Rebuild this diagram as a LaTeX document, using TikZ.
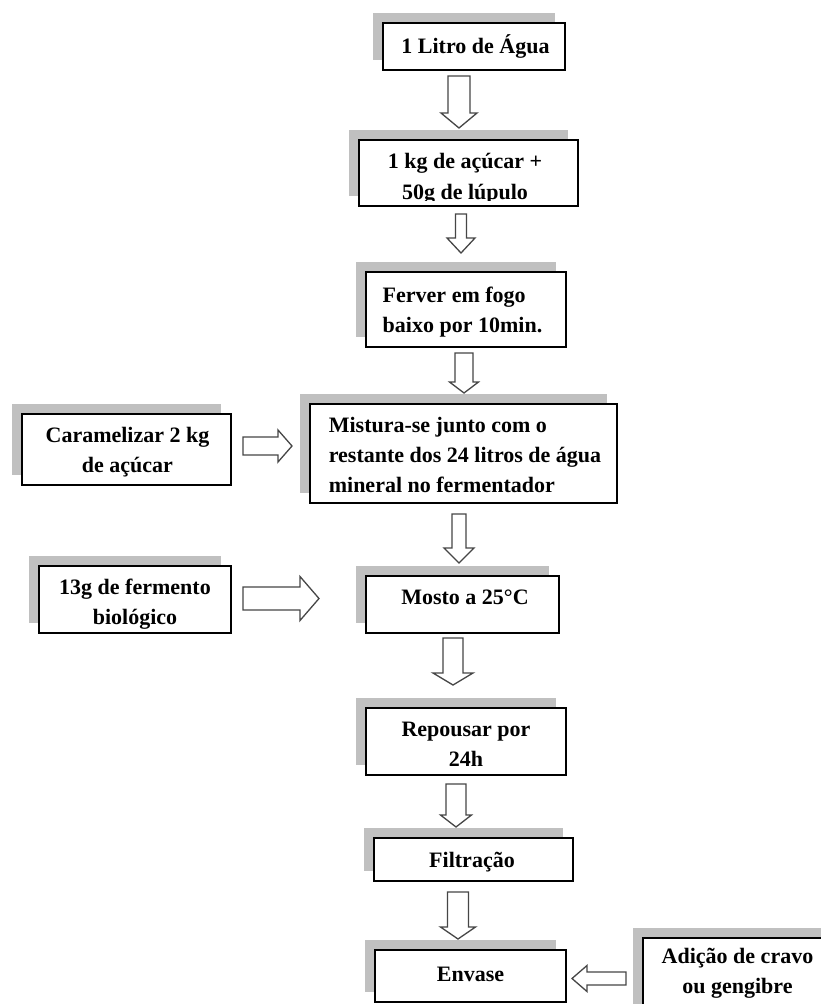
\documentclass[tikz,border=0pt]{standalone}
\usepackage{fontspec}
\setmainfont{Liberation Serif}
\usetikzlibrary{calc,shadows}
\definecolor{shadowgray}{RGB}{192,192,192}
\definecolor{arrowgray}{RGB}{70,70,70}
\tikzset{
  box/.style={draw=black, fill=white, line width=1.4pt, inner sep=0pt,
    drop shadow={shadow xshift=-10pt, shadow yshift=10pt, fill=shadowgray, opacity=1}},
  txt/.style={inner sep=0pt, align=center, font=\fontsize{22}{30}\selectfont\bfseries},
  txtl/.style={txt, align=left},
  blockarrow/.style={draw=arrowgray, fill=white, line width=1.3pt, line join=miter},
}
% vertical block arrow: cx, top, tip, headstart, shaft half width, head half width
\newcommand{\varrow}[6]{\draw[blockarrow] (#1-#5,#2) -- (#1+#5,#2) -- (#1+#5,#4) -- (#1+#6,#4) -- (#1,#3) -- (#1-#6,#4) -- (#1-#5,#4) -- cycle;}
% horizontal block arrow: cy, tail, tip, headstart, shaft half width, head half width
\newcommand{\harrow}[6]{\draw[blockarrow] (#2,#1-#5) -- (#4,#1-#5) -- (#4,#1-#6) -- (#3,#1) -- (#4,#1+#6) -- (#4,#1+#5) -- (#2,#1+#5) -- cycle;}
\begin{document}
\begin{tikzpicture}[x=1pt,y=-1pt]
\clip (0,0) rectangle (821,1004);
\fill[white] (0,0) rectangle (821,1004);

\node[box, minimum width=182pt, minimum height=47pt] (b1) at (474,46.5) {};
\node[txt] (b1t) at ($(b1)+(1.5,0)$) {1 Litro de Água};

\node[box, minimum width=219pt, minimum height=66pt] (b2) at (468.5,173) {};
\begin{scope}
  \clip ($(b2.south west)+(1pt,6.5pt)$) rectangle ($(b2.north east)+(-1pt,-1pt)$);
  \node[txt, font=\fontsize{22}{31}\selectfont\bfseries] (b2t) at ($(b2)+(-3.5,6)$) {1 kg de açúcar +\\50g de lúpulo};
\end{scope}

\node[box, minimum width=200pt, minimum height=75pt] (b3) at (466,309.5) {};
\node[txtl] (b3t) at ($(b3)+(-3.5,2.5)$) {Ferver em fogo\\baixo por 10min.};

\node[box, minimum width=307pt, minimum height=99pt] (b4) at (463.5,453.5) {};
\node[txtl] (b4t) at ($(b4)+(1.5,1.5)$) {Mistura-se junto com o\\restante dos 24 litros de água\\mineral no fermentador};

\node[box, minimum width=209pt, minimum height=71pt] (car) at (126.5,449.5) {};
\node[txt] (cart) at ($(car)+(1,2.5)$) {Caramelizar 2 kg\\de açúcar};

\node[box, minimum width=192pt, minimum height=67pt] (fer) at (135,599.5) {};
\node[txt] (fert) at ($(fer)+(0,4.5)$) {13g de fermento\\biológico};

\node[box, minimum width=193pt, minimum height=57pt] (mos) at (462.5,604.5) {};
\node[txt] (most) at ($(mos)+(2.5,-7)$) {Mosto a 25°C};

\node[box, minimum width=200pt, minimum height=67pt] (rep) at (466,741.5) {};
\node[txt] (rept) at ($(rep)+(0,3)$) {Repousar por\\24h};

\node[box, minimum width=199pt, minimum height=43pt] (fil) at (473.5,859.5) {};
\node[txt] (filt) at ($(fil)+(-1.5,3)$) {Filtração};

\node[box, minimum width=191pt, minimum height=52pt] (env) at (470.5,976) {};
\node[txt] (envt) at ($(env)+(0,-1.5)$) {Envase};

\node[box, minimum width=189pt, minimum height=80pt] (adi) at (737.5,978) {};
\node[txt] (adit) at ($(adi)+(0,-4.5)$) {Adição de cravo\\ou gengibre};

\varrow{459}{76}{128}{113}{11}{18}
\varrow{461}{214}{253}{238}{5.5}{14}
\varrow{464}{353}{393}{382}{9}{14.5}
\varrow{459}{514}{563}{548}{7}{15}
\varrow{453}{638}{685}{673}{10}{20}
\varrow{456}{784}{827}{815}{10}{15.5}
\varrow{458}{892}{939}{927}{10.5}{17.5}
\harrow{446}{243}{292}{278}{9}{16}
\harrow{598.5}{243}{319}{300}{11.5}{22}
\harrow{978.5}{626}{572}{587}{6.5}{13}
\end{tikzpicture}
\end{document}
